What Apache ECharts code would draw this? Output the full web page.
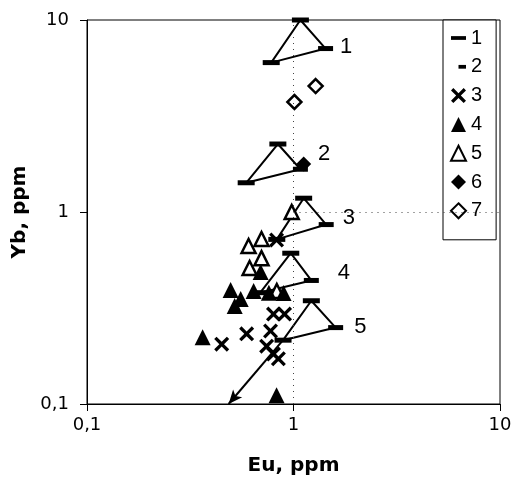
<!DOCTYPE html>
<html><head><meta charset="utf-8">
<script src="https://cdn.jsdelivr.net/npm/echarts@6/dist/echarts.min.js"></script>
<style>html,body{margin:0;padding:0;background:#fff}#c{width:514px;height:479px}</style>
</head><body><div id="c"></div>
<script>
// ---- data ----
const axisMin = 0.1, axisMax = 10;
const tickText = {'0.1': '0,1', '1': '1', '10': '10'};
const refX = 1, refY = 1;
const triangleNames = ['1', '2', '3', '4', '5'];
const triTop   = [[1.08, 10], [0.84, 2.26], [1.12, 1.18], [0.97, 0.61], [1.22, 0.345]];
const triLeft  = [[0.78, 6.0], [0.59, 1.42], [0.83, 0.72], [0.69, 0.38], [0.89, 0.215]];
const triRight = [[1.43, 7.1], [1.08, 1.67], [1.44, 0.86], [1.22, 0.44], [1.6, 0.25]];
const arrowFrom = [0.89, 0.215];
const arrowTo = [0.485, 0.1];
const group3 = [[0.80, 0.294], [0.905, 0.294], [0.593, 0.232], [0.774, 0.24], [0.449, 0.205], [0.741, 0.20], [0.80, 0.182], [0.845, 0.172], [0.828, 0.715]];
const group4 = [[0.496, 0.392], [0.555, 0.352], [0.519, 0.324], [0.641, 0.388], [0.693, 0.487], [0.76, 0.38], [0.895, 0.379], [0.363, 0.223], [0.828, 0.111]];
const group5 = [[0.606, 0.665], [0.70, 0.723], [0.613, 0.511], [0.70, 0.575], [0.98, 1.0], [0.83, 0.388]];
const group6 = [[1.12, 1.78]];
const group7 = [[1.28, 4.53], [1.01, 3.74]];
const legendNames = ['1', '2', '3', '4', '5', '6', '7'];

// ---- styles ----
const FONT = 'DejaVu Sans';
const NUMFONT = 'Liberation Sans';
const crossPath = 'path://M0,2.5L2.5,0L8,5.5L13.5,0L16,2.5L10.5,8L16,13.5L13.5,16L8,10.5L2.5,16L0,13.5L5.5,8Z';
const longDash = 'path://M0,0M16,16M0,6H16V10H0Z';
const shortDash = 'path://M0,0M16,16M8,6H16V10H8Z';
const labelOffsets = [[2, -2], [5, -15], [4, -7], [14, -8], [6, -1]];

const series = [];
triangleNames.forEach((n, i) => {
  series.push({
    name: 'tri' + n, type: 'line', silent: true, symbol: 'none', z: 2,
    data: [triTop[i], triRight[i], triLeft[i], triTop[i]],
    lineStyle: {color: '#000', width: 2}
  });
});
series.push({
  name: 'arrow', type: 'line', data: [], silent: true, z: 2,
  markLine: {
    silent: true, symbol: ['none', 'arrow'], symbolSize: [9, 14],
    label: {show: false},
    lineStyle: {color: '#000', width: 2, type: 'solid'},
    data: [[{coord: arrowFrom}, {coord: arrowTo}]]
  }
});
series.push({
  name: 'grid', type: 'line', data: [], silent: true, z: 1,
  markLine: {
    silent: true, symbol: ['none', 'none'], label: {show: false},
    lineStyle: {color: '#444', width: 1, type: [1, 5]},
    data: [
      [{coord: [refX, axisMin]}, {coord: [refX, axisMax]}],
      [{coord: [refX, refY]}, {coord: [axisMax, refY]}]
    ]
  }
});
series.push({
  name: '1', type: 'scatter', symbol: 'rect', symbolSize: [17, 5], z: 5,
  itemStyle: {color: '#000', opacity: 1}, data: triTop.concat(triLeft)
});
series.push({
  name: '2', type: 'scatter', symbol: 'rect', symbolSize: [15, 5], z: 5,
  itemStyle: {color: '#000', opacity: 1},
  data: triRight.map((p, i) => ({
    value: p,
    label: {show: true, position: 'right', offset: labelOffsets[i], formatter: triangleNames[i],
      color: '#000', fontFamily: NUMFONT, fontSize: 22}
  }))
});
series.push({
  name: '5', type: 'scatter', symbol: 'triangle', symbolSize: 14, z: 3,
  itemStyle: {color: '#fff', borderColor: '#000', borderWidth: 2.5, opacity: 1}, data: group5
});
series.push({
  name: '3', type: 'scatter', symbol: crossPath, symbolSize: 15, z: 4,
  itemStyle: {color: '#000', opacity: 1}, data: group3
});
series.push({
  name: '4', type: 'scatter', symbol: 'triangle', symbolSize: 16, z: 4,
  itemStyle: {color: '#000', opacity: 1}, data: group4
});
series.push({
  name: '6', type: 'scatter', symbol: 'diamond', symbolSize: 15, z: 6,
  itemStyle: {color: '#000', opacity: 1}, data: group6
});
series.push({
  name: '7', type: 'scatter', symbol: 'diamond', symbolSize: 14, z: 4,
  itemStyle: {color: '#fff', borderColor: '#000', borderWidth: 2.5, opacity: 1}, data: group7
});

const legendIcons = {'1': longDash, '2': shortDash, '3': crossPath, '4': 'triangle', '5': 'triangle', '6': 'diamond', '7': 'diamond'};

const axisCommon = {
  type: 'log', logBase: 10, min: axisMin, max: axisMax,
  axisLine: {show: true, lineStyle: {color: '#000', width: 1}},
  axisTick: {show: true, length: 7, lineStyle: {color: '#000'}},
  splitLine: {show: false},
  minorTick: {show: false}
};
const fmt = v => tickText[String(+v.toPrecision(3))] || '';

const option = {
  animation: false,
  backgroundColor: '#fff',
  grid: {left: 87, right: 14, top: 20, bottom: 75, show: true, borderColor: '#000', borderWidth: 1,
    containLabel: false, outerBoundsMode: 'none'},
  xAxis: Object.assign({}, axisCommon, {
    name: 'Eu, ppm', nameLocation: 'middle', nameGap: 52,
    nameTextStyle: {fontFamily: FONT, fontWeight: 'bold', fontSize: 20, color: '#000'},
    axisLabel: {margin: 12, color: '#000', fontFamily: FONT, fontSize: 18, formatter: fmt}
  }),
  yAxis: Object.assign({}, axisCommon, {
    name: 'Yb, ppm', nameLocation: 'middle', nameGap: 54,
    nameTextStyle: {fontFamily: FONT, fontWeight: 'bold', fontSize: 20, color: '#000'},
    axisLabel: {margin: 18, color: '#000', fontFamily: FONT, fontSize: 18, formatter: fmt}
  }),
  legend: {
    orient: 'vertical', left: 443, top: 20,
    padding: [8, 14, 19, 7], itemGap: 8.8, itemWidth: 15, itemHeight: 15, itemTextGap: 3,
    borderColor: '#000', borderWidth: 1, backgroundColor: '#fff',
    textStyle: {fontFamily: NUMFONT, fontSize: 20, color: '#000', lineHeight: 20},
    selectedMode: false,
    data: legendNames.map(n => ({name: n, icon: legendIcons[n]}))
  },
  series: series
};
const chart = echarts.init(document.getElementById('c'), null, {renderer: 'canvas'});
chart.setOption(option);
</script></body></html>
